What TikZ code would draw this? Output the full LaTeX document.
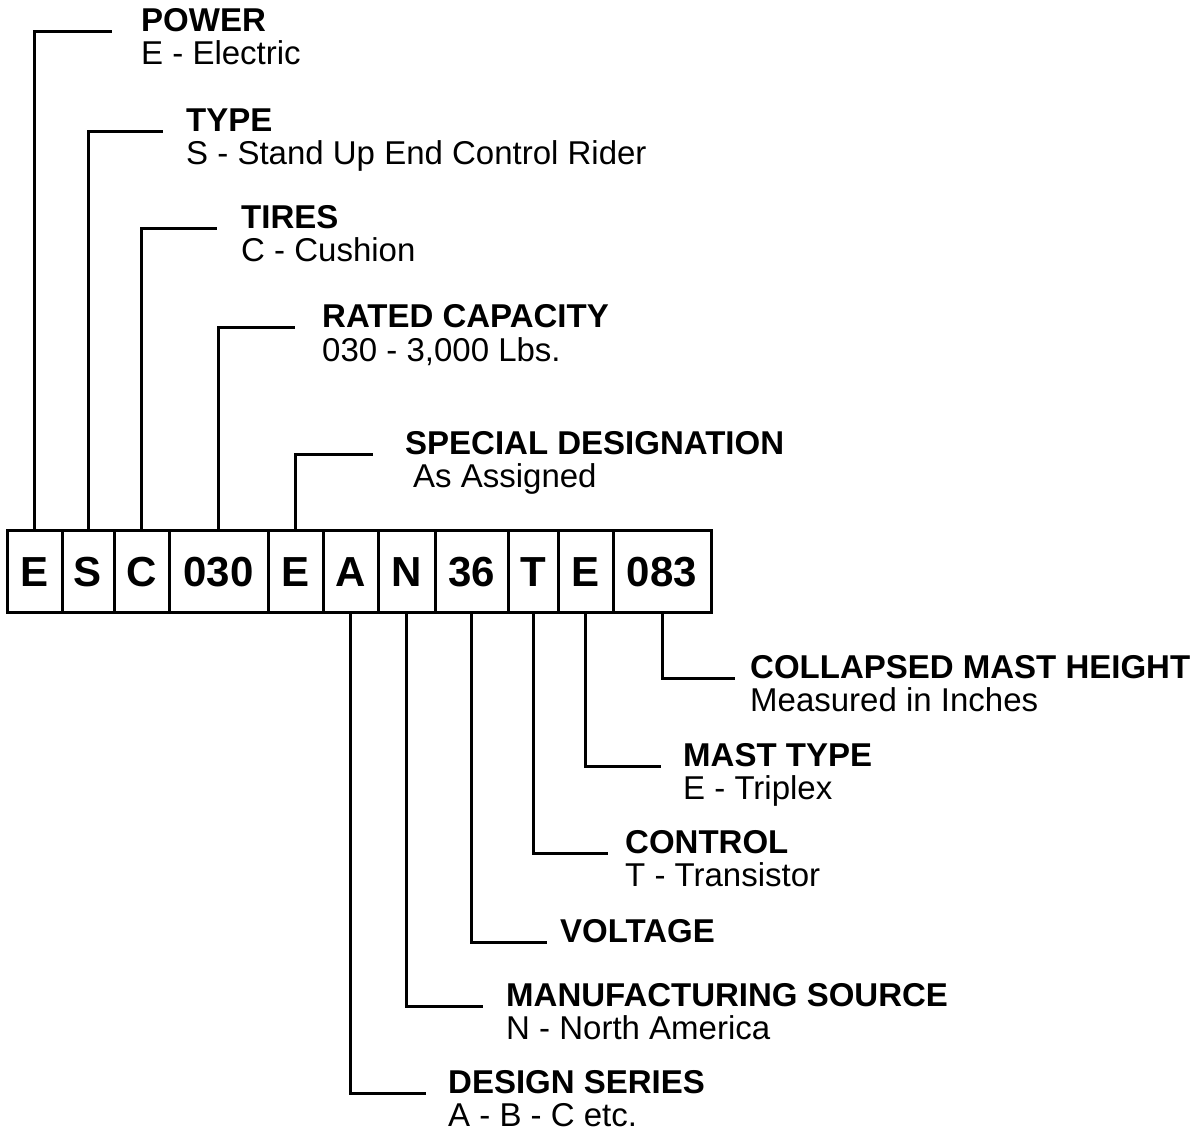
\documentclass[tikz,border=0pt]{standalone}
\usepackage{fontspec}
\setmainfont{Liberation Sans}
\usetikzlibrary{positioning}

\begin{document}
\begin{tikzpicture}[x=1pt, y=-1pt,
    cell/.style={rectangle, draw, line width=3pt, minimum height=82pt,
        inner sep=0pt, outer sep=0pt, text height=30pt, text depth=0pt,
        font=\fontsize{42}{42}\selectfont\bfseries},
    head/.style={anchor=base west, inner sep=0pt, font=\fontsize{33}{38}\selectfont\bfseries},
    sub/.style={anchor=base west, inner sep=0pt, font=\fontsize{33}{38}\selectfont},
    lead/.style={line width=3pt}
]
    \useasboundingbox (0,0) rectangle (1196,1131);

    % === Model code row ===
    \node[cell, minimum width=55pt] (pwr) at (34.5,571) {E};
    \node[cell, minimum width=52pt] (typ) at (88,571) {S};
    \node[cell, minimum width=55pt] (tire) at (141.5,571) {C};
    \node[cell, minimum width=99pt] (cap) at (218.5,571) {030};
    \node[cell, minimum width=55pt] (spec) at (295.5,571) {E};
    \node[cell, minimum width=55pt] (ser) at (350.5,571) {A};
    \node[cell, minimum width=57pt] (mfg) at (406.5,571) {N};
    \node[cell, minimum width=73pt] (volt) at (471.5,571) {36};
    \node[cell, minimum width=50pt] (ctrl) at (533,571) {T};
    \node[cell, minimum width=55pt] (mast) at (585.5,571) {E};
    \node[cell, minimum width=98pt] (height) at (662,571) {083};

    % === Labels above ===
    \node[head] (pwrlbl) at (141,32) {POWER};
    \node[sub] (pwrval) at ([yshift=-33pt]pwrlbl.base west) {E - Electric};
    \node[head] (typlbl) at (186,132) {TYPE};
    \node[sub] (typval) at ([yshift=-33pt]typlbl.base west) {S - Stand Up End Control Rider};
    \node[head] (tirelbl) at (241,229) {TIRES};
    \node[sub] (tireval) at ([yshift=-33pt]tirelbl.base west) {C - Cushion};
    \node[head] (caplbl) at (322,328) {RATED CAPACITY};
    \node[sub] (capval) at ([yshift=-33pt]caplbl.base west) {030 - 3,000 Lbs.};
    \node[head] (speclbl) at (405,454) {SPECIAL DESIGNATION};
    \node[sub] (specval) at ([xshift=8pt, yshift=-33pt]speclbl.base west) {As Assigned};

    \draw[lead] (pwr.north) -- (pwr.north |- pwrlbl.base) -- ++(77,0);
    \draw[lead] (typ.north) -- (typ.north |- typlbl.base) -- ++(75,0);
    \draw[lead] (tire.north) -- (tire.north |- tirelbl.base) -- ++(75,0);
    \draw[lead] (cap.north) -- (cap.north |- caplbl.base) -- ++(76,0);
    \draw[lead] (spec.north) -- (spec.north |- speclbl.base) -- ++(77,0);

    % === Labels below ===
    \node[head] (heightlbl) at (750,678) {COLLAPSED MAST HEIGHT};
    \node[sub] (heightval) at ([yshift=-33pt]heightlbl.base west) {Measured in Inches};
    \node[head] (mastlbl) at (683,766) {MAST TYPE};
    \node[sub] (mastval) at ([yshift=-33pt]mastlbl.base west) {E - Triplex};
    \node[head] (ctrllbl) at (625,853) {CONTROL};
    \node[sub] (ctrlval) at ([yshift=-33pt]ctrllbl.base west) {T - Transistor};
    \node[head] (voltlbl) at (560,942) {VOLTAGE};
    \node[head] (mfglbl) at (506,1006) {MANUFACTURING SOURCE};
    \node[sub] (mfgval) at ([yshift=-33pt]mfglbl.base west) {N - North America};
    \node[head] (serlbl) at (448,1093) {DESIGN SERIES};
    \node[sub] (serval) at ([yshift=-33pt]serlbl.base west) {A - B - C etc.};

    \draw[lead] (height.south) -- (height.south |- heightlbl.base) -- ++(73,0);
    \draw[lead] (mast.south) -- (mast.south |- mastlbl.base) -- ++(75,0);
    \draw[lead] (ctrl.south) -- (ctrl.south |- ctrllbl.base) -- ++(75,0);
    \draw[lead] (volt.south) -- (volt.south |- voltlbl.base) -- ++(75,0);
    \draw[lead] (mfg.south) -- (mfg.south |- mfglbl.base) -- ++(76,0);
    \draw[lead] (ser.south) -- (ser.south |- serlbl.base) -- ++(75,0);
\end{tikzpicture}
\end{document}
